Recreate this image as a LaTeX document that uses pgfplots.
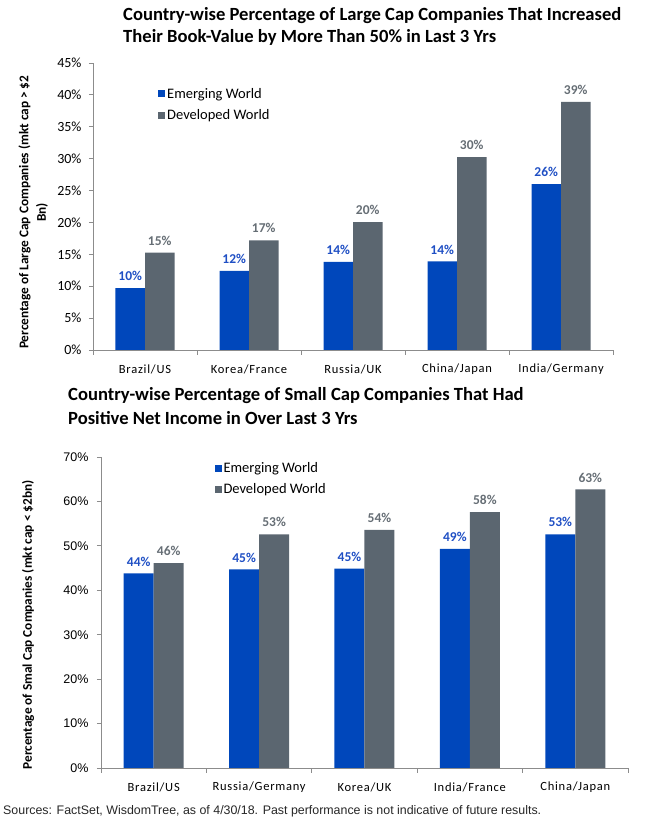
\documentclass[border=0pt]{standalone}
\usepackage{fontspec}
\setmainfont{Carlito}
\newfontfamily\arial{Liberation Sans}
\newfontfamily\catfont[LetterSpace=6]{Carlito}
\usepackage{pgfplots}
\pgfplotsset{compat=1.18}
\definecolor{emblue}{HTML}{0047BB}
\definecolor{devgray}{HTML}{5B6670}
\definecolor{axgray}{HTML}{8C8C8C}
\definecolor{emlab}{HTML}{1F4FC4}
\definecolor{devlab}{HTML}{666E75}
\pgfplotsset{
  mybars/.style={
    scale only axis,
    /pgf/number format/assume math mode=true,
    xmin=-0.5, xmax=4.5, ymin=0,
    ybar=0pt,
    axis x line*=bottom, axis y line*=left,
    axis line style={-, draw=axgray, line width=0.8pt},
    xtick={0,1,2,3,4},
    minor xtick={-0.5,0.5,1.5,2.5,3.5,4.5},
    major x tick style={draw=none},
    minor x tick style={draw=axgray, line width=0.8pt},
    y tick style={draw=axgray, line width=0.8pt},
    tick align=outside,
    major tick length=4pt, minor tick length=5pt,
    yticklabel={\pgfmathprintnumber{\tick}\%},
    xticklabel style={anchor=center, yshift=-15pt, font=\catfont\fontsize{12.5}{12.5}\selectfont},
    nodes near coords={\pgfmathprintnumber[fixed,precision=0]{\pgfplotspointmeta}\%},
    every node near coord/.append style={font=\bfseries\fontsize{13.5}{13.5}\selectfont, anchor=south, inner sep=0pt, yshift=7pt},
    legend cell align=left,
    legend image code/.code={\fill[##1, draw=none] (0pt,-3.5pt) rectangle (7pt,3.5pt);},
    clip=false,
  }
}
\begin{document}
\begin{tikzpicture}
\path[use as bounding box] (0pt,0pt) rectangle (648pt,828pt);
\node[anchor=base west, inner sep=0pt, font=\bfseries\fontsize{18.6}{18.6}\selectfont] at (123pt,807pt) {Country-wise Percentage of Large Cap Companies That Increased};
\node[anchor=base west, inner sep=0pt, font=\bfseries\fontsize{18.6}{18.6}\selectfont] at (123pt,785pt) {Their Book-Value by More Than 50\% in Last 3 Yrs};
\node[anchor=base west, inner sep=0pt, font=\bfseries\fontsize{18.6}{18.6}\selectfont] at (68pt,427pt) {Country-wise Percentage of Small Cap Companies That Had};
\node[anchor=base west, inner sep=0pt, font=\bfseries\fontsize{18.6}{18.6}\selectfont] at (68pt,403pt) {Positive Net Income in Over Last 3 Yrs};
\node[anchor=base west, inner sep=0pt, font=\arial\fontsize{12.4}{12.4}\selectfont, text=black!85] at (3pt,13.5pt) {Sources: FactSet, WisdomTree, as of 4/30/18. Past performance is not indicative of future results.};

\begin{axis}[mybars,
  at={(93pt,478pt)}, anchor=south west,
  width=520pt, height=287pt,
  ymax=45, ytick={0,5,...,45},
  bar width=29.5pt,
  xticklabels={Brazil/US,Korea/France,Russia/UK,China/Japan,India/Germany},
  yticklabel style={font=\fontsize{14}{14}\selectfont, xshift=-4pt},
  ylabel={Percentage of Large Cap Companies (mkt cap > \$2\\Bn)},
  ylabel style={at={(axis description cs:-0.115,0.48)}, anchor=center, align=center, font=\bfseries\fontsize{13.3}{17.5}\selectfont},
  legend style={at={(0.125,0.92)}, anchor=north west, draw=none, fill=none, inner sep=0pt, font=\fontsize{14.5}{14.5}\selectfont, row sep=6pt},
]
\addplot[fill=emblue, draw=none, every node near coord/.append style={text=emlab}] coordinates {(0,9.7) (1,12.4) (2,13.8) (3,13.9) (4,26.0)};
\addplot[fill=devgray, draw=none, every node near coord/.append style={text=devlab}] coordinates {(0,15.25) (1,17.2) (2,20.06) (3,30.25) (4,38.9)};
\legend{Emerging World, Developed World}
\end{axis}

\begin{axis}[mybars,
  at={(101pt,60pt)}, anchor=south west,
  width=527pt, height=311pt,
  ymax=70, ytick={0,10,...,70},
  bar width=30pt,
  xticklabels={Brazil/US,Russia/Germany,Korea/UK,India/France,China/Japan},
  yticklabel style={font=\arial\fontsize{12.5}{12.5}\selectfont, xshift=-5pt},
  ylabel={Percentage of Smal Cap Companies (mkt cap < \$2bn)},
  ylabel style={at={(axis description cs:-0.1385,0.46)}, anchor=center, font=\bfseries\fontsize{13.3}{13.3}\selectfont},
  legend style={at={(0.215,0.99)}, anchor=north west, draw=none, fill=none, inner sep=0pt, font=\fontsize{14.5}{14.5}\selectfont, row sep=6pt},
]
\addplot[fill=emblue, draw=none, every node near coord/.append style={text=emlab}] coordinates {(0,43.8) (1,44.7) (2,44.9) (3,49.3) (4,52.6)};
\addplot[fill=devgray, draw=none, every node near coord/.append style={text=devlab}] coordinates {(0,46.1) (1,52.6) (2,53.6) (3,57.6) (4,62.7)};
\legend{Emerging World, Developed World}
\end{axis}
\end{tikzpicture}
\end{document}
